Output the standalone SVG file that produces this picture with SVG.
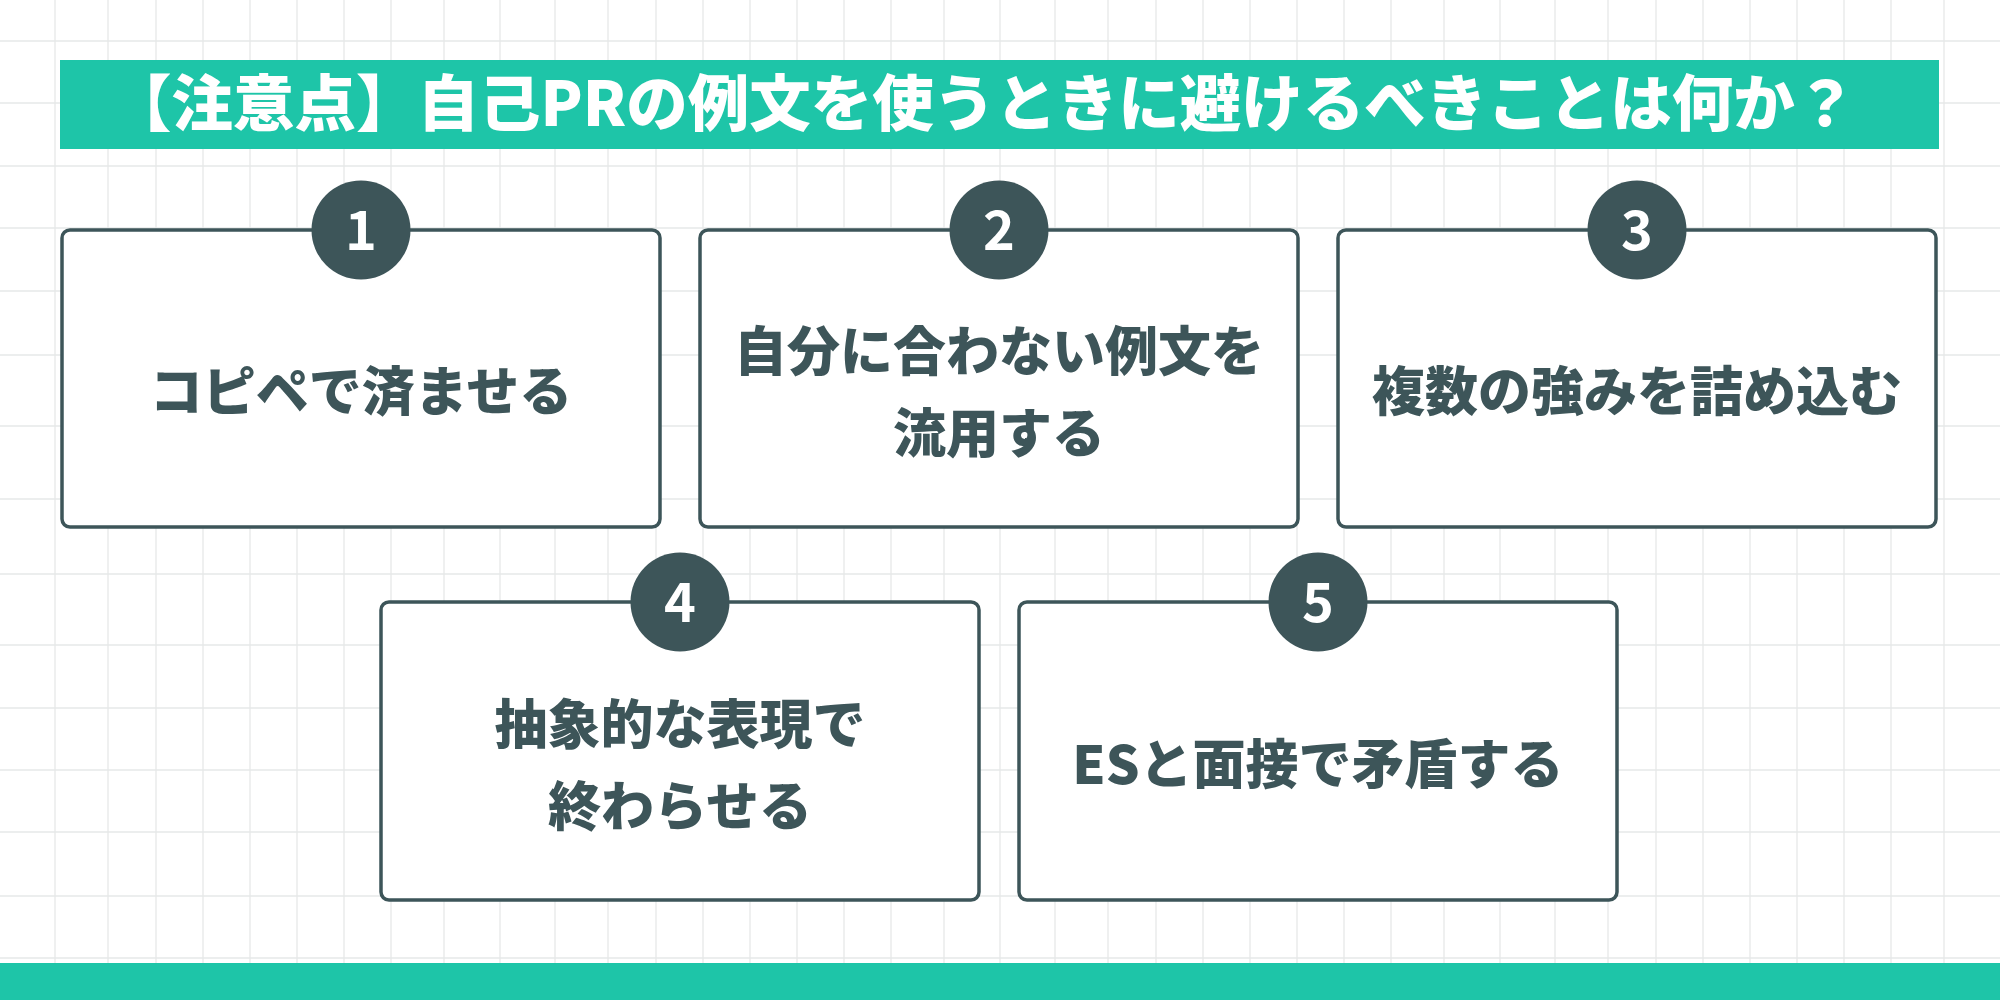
<svg xmlns="http://www.w3.org/2000/svg" width="2000" height="1000" viewBox="0 0 2000 1000">
<defs>
<style>
.grid line{stroke:#E6E8E8;stroke-width:1.3}
.box{fill:#FFFFFF;stroke:#3D5559;stroke-width:3.5}
.badge{fill:#3D5559}
.num{font-family:"Noto Sans CJK JP","Noto Sans",sans-serif;font-weight:700;font-size:54px;fill:#FFFFFF;text-anchor:middle}
.label{font-family:"Noto Sans CJK JP","Noto Sans",sans-serif;font-weight:900;font-size:53px;fill:#3D5559;text-anchor:middle}
.title{font-family:"Noto Sans CJK JP","Noto Sans",sans-serif;font-weight:900;font-size:61.5px;fill:#FFFFFF}
.teal{fill:#1EC5A8}
</style>
</defs>
<rect x="0" y="0" width="2000" height="1000" fill="#FFFFFF"/>
<g class="grid">
<line x1="55" y1="0" x2="55" y2="1000"/><line x1="108" y1="0" x2="108" y2="1000"/><line x1="156" y1="0" x2="156" y2="1000"/><line x1="203" y1="0" x2="203" y2="1000"/><line x1="250" y1="0" x2="250" y2="1000"/><line x1="297" y1="0" x2="297" y2="1000"/><line x1="344" y1="0" x2="344" y2="1000"/><line x1="391" y1="0" x2="391" y2="1000"/><line x1="444" y1="0" x2="444" y2="1000"/><line x1="500" y1="0" x2="500" y2="1000"/>
<line x1="555" y1="0" x2="555" y2="1000"/><line x1="608" y1="0" x2="608" y2="1000"/><line x1="656" y1="0" x2="656" y2="1000"/><line x1="703" y1="0" x2="703" y2="1000"/><line x1="750" y1="0" x2="750" y2="1000"/><line x1="797" y1="0" x2="797" y2="1000"/><line x1="844" y1="0" x2="844" y2="1000"/><line x1="891" y1="0" x2="891" y2="1000"/><line x1="944" y1="0" x2="944" y2="1000"/><line x1="1000" y1="0" x2="1000" y2="1000"/>
<line x1="1055" y1="0" x2="1055" y2="1000"/><line x1="1108" y1="0" x2="1108" y2="1000"/><line x1="1156" y1="0" x2="1156" y2="1000"/><line x1="1203" y1="0" x2="1203" y2="1000"/><line x1="1250" y1="0" x2="1250" y2="1000"/><line x1="1297" y1="0" x2="1297" y2="1000"/><line x1="1344" y1="0" x2="1344" y2="1000"/><line x1="1391" y1="0" x2="1391" y2="1000"/><line x1="1444" y1="0" x2="1444" y2="1000"/><line x1="1500" y1="0" x2="1500" y2="1000"/>
<line x1="1555" y1="0" x2="1555" y2="1000"/><line x1="1608" y1="0" x2="1608" y2="1000"/><line x1="1656" y1="0" x2="1656" y2="1000"/><line x1="1703" y1="0" x2="1703" y2="1000"/><line x1="1750" y1="0" x2="1750" y2="1000"/><line x1="1797" y1="0" x2="1797" y2="1000"/><line x1="1844" y1="0" x2="1844" y2="1000"/><line x1="1891" y1="0" x2="1891" y2="1000"/><line x1="1944" y1="0" x2="1944" y2="1000"/>
<line x1="0" y1="41" x2="2000" y2="41"/><line x1="0" y1="103" x2="2000" y2="103"/><line x1="0" y1="166" x2="2000" y2="166"/><line x1="0" y1="228" x2="2000" y2="228"/><line x1="0" y1="291" x2="2000" y2="291"/><line x1="0" y1="355" x2="2000" y2="355"/><line x1="0" y1="426" x2="2000" y2="426"/><line x1="0" y1="499" x2="2000" y2="499"/><line x1="0" y1="574" x2="2000" y2="574"/><line x1="0" y1="645" x2="2000" y2="645"/><line x1="0" y1="708" x2="2000" y2="708"/><line x1="0" y1="770" x2="2000" y2="770"/><line x1="0" y1="832" x2="2000" y2="832"/><line x1="0" y1="896" x2="2000" y2="896"/><line x1="0" y1="958" x2="2000" y2="958"/>
</g>
<g id="title">
<rect class="teal" x="60" y="60" width="1879" height="89"/>
<text class="title" x="110" y="126">【注意点】自己PRの例文を使うときに避けるべきことは何か？</text>
</g>
<g id="node1">
<rect class="box" x="62" y="230" width="598" height="297" rx="8"/>
<circle class="badge" cx="361" cy="230" r="49.5"/>
<text class="num" x="361" y="250">1</text>
<text class="label" x="361" y="411">コピペで済ませる</text>
</g>
<g id="node2">
<rect class="box" x="700" y="230" width="598" height="297" rx="8"/>
<circle class="badge" cx="999" cy="230" r="49.5"/>
<text class="num" x="999" y="250">2</text>
<text class="label" x="999" y="371">自分に合わない例文を</text>
<text class="label" x="999" y="453">流用する</text>
</g>
<g id="node3">
<rect class="box" x="1338" y="230" width="598" height="297" rx="8"/>
<circle class="badge" cx="1637" cy="230" r="49.5"/>
<text class="num" x="1637" y="250">3</text>
<text class="label" x="1637" y="411">複数の強みを詰め込む</text>
</g>
<g id="node4">
<rect class="box" x="381" y="602" width="598" height="298" rx="8"/>
<circle class="badge" cx="680" cy="602" r="49.5"/>
<text class="num" x="680" y="622">4</text>
<text class="label" x="680" y="744">抽象的な表現で</text>
<text class="label" x="680" y="826">終わらせる</text>
</g>
<g id="node5">
<rect class="box" x="1019" y="602" width="598" height="298" rx="8"/>
<circle class="badge" cx="1318" cy="602" r="49.5"/>
<text class="num" x="1318" y="622">5</text>
<text class="label" x="1318" y="784">ESと面接で矛盾する</text>
</g>
<g id="connectors"></g>
<rect class="teal" x="0" y="963" width="2000" height="37"/>
</svg>
